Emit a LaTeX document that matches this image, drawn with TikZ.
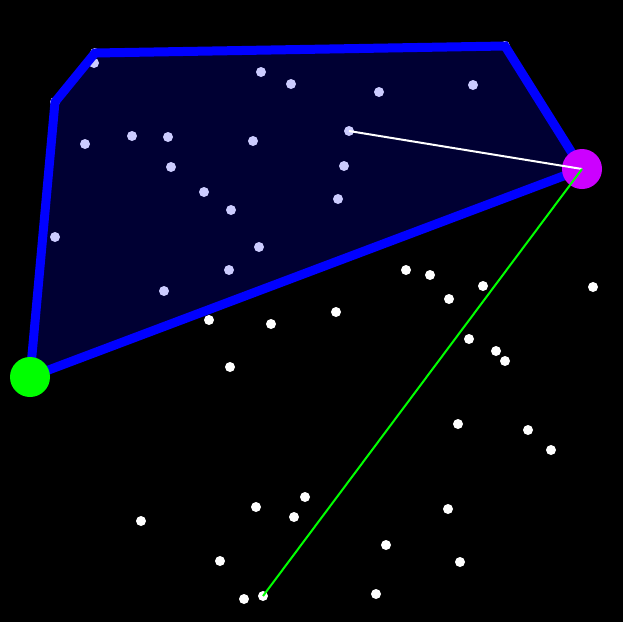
\documentclass[tikz,border=0pt]{standalone}
\usetikzlibrary{calc}

\definecolor{startgreen}{RGB}{0,255,0}
\definecolor{curmagenta}{RGB}{204,0,255}

\tikzset{
  dot/.style={circle, fill=white, inner sep=0pt, minimum size=10pt},
  hull/.style={draw=blue, line width=9pt, fill=blue, fill opacity=0.2, draw opacity=1, line join=miter},
  endpt/.style={circle, inner sep=0pt, minimum size=40pt},
}

\begin{document}
\begin{tikzpicture}[x=1pt, y=-1pt]
  \fill[black] (0,0) rectangle (623,622);
  % points inside the hull
  \foreach \x/\y [count=\i] in {94/63, 261/72, 291/84, 379/92, 473/85, 85/144, 132/136,
      168/137, 253/141, 349/131, 171/167, 344/166, 204/192, 231/210, 338/199,
      55/237, 259/247, 229/270, 164/291}
    \node[dot] (in\i) at (\x,\y) {};
  % points outside
  \foreach \x/\y [count=\i] in {406/270, 430/275, 483/286, 449/299, 593/287, 209/320,
      271/324, 336/312, 469/339, 496/351, 505/361, 230/367, 458/424, 528/430,
      551/450, 141/521, 256/507, 305/497, 294/517, 448/509, 386/545, 220/561,
      460/562, 244/599, 263/596, 376/594}
    \node[dot] (out\i) at (\x,\y) {};
  % hull corners
  \node[dot] (h1) at (30,377) {};
  \node[dot] (h2) at (55,102) {};
  \node[dot] (h3) at (95,53) {};
  \node[dot] (h4) at (505,46) {};
  \node[dot] (h5) at (582,169) {};

  \draw[hull] (h1.center) -- (h2.center) -- (h3.center) -- (h4.center)
    -- (h5.center) -- cycle;

  \node[endpt, fill=startgreen] (start) at (h1) {};
  \node[endpt, fill=curmagenta] (cur) at (h5) {};

  \draw[white, line width=2pt] (in10.center) -- (cur.center);
  \draw[startgreen, line width=2pt] (cur.center) -- (out25.center);
\end{tikzpicture}
\end{document}
